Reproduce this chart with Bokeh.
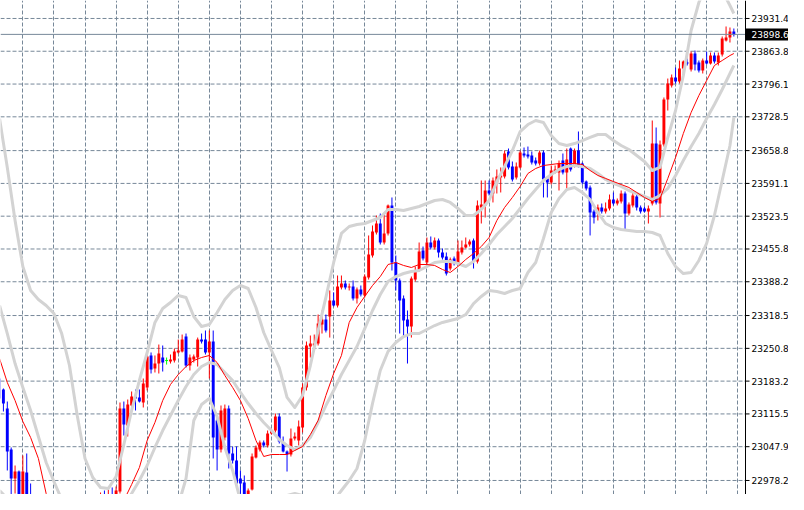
from math import nan
import numpy as np
from bokeh.plotting import figure
from bokeh.models import FixedTicker, Range1d, ColumnDataSource
from bokeh.core.properties import value
from bokeh.embed import file_html
from bokeh.resources import INLINE

# ---- candle data (bar index, prices) ----
bar = list(range(-1, 189))
N8 = [nan] * 17  # bars 8..24 lie below the visible window

opens = [23188.6, 23165.9, 23126.7, 23042.1, 22982.3, 22996.7, 22906.0, 22994.7, 22938.9] + N8 + [
    22906.0, 22941.0, 22936.9, 22949.2, 22912.2, 22955.4, 23126.7, 23091.7, 23132.9, 23151.5,
    23149.5, 23139.1, 23170.1, 23236.1, 23209.2, 23219.5, 23231.9, 23225.7, 23223.6, 23225.7,
    23242.3, 23244.3, 23275.2, 23215.4, 23227.8, 23231.9, 23269.0, 23269.0, 23242.3, 23264.9,
    23102.0, 23042.1, 23066.9, 23126.7, 23033.9, 23019.4, 22982.3, 22974.1, 22941.0, 22959.6,
    23025.6, 23042.1, 23056.6, 23050.4, 23075.1, 23081.3, 23110.2, 23056.6, 23038.0, 23031.8,
    23064.8, 23060.7, 23087.5, 23170.1, 23254.6, 23256.7, 23260.8, 23300.0, 23310.3, 23316.5,
    23349.5, 23339.2, 23376.4, 23384.6, 23376.4, 23378.4, 23353.7, 23372.3, 23359.9, 23397.0,
    23442.4, 23489.9, 23508.4, 23469.2, 23487.8, 23545.6, 23428.0, 23390.8, 23353.7, 23310.3,
    23295.9, 23392.8, 23413.5, 23452.7, 23428.0, 23469.2, 23458.9, 23473.3, 23448.6, 23440.3,
    23415.5, 23436.2, 23425.9, 23448.6, 23458.9, 23465.0, 23473.3, 23430.0, 23541.5, 23545.6,
    23576.5, 23570.3, 23593.0, 23603.3, 23605.4, 23656.9, 23626.0, 23603.3, 23624.0, 23652.8,
    23650.7, 23648.7, 23638.4, 23632.2, 23654.9, 23601.3, 23593.0, 23613.7, 23613.7, 23638.4,
    23613.7, 23663.1, 23628.1, 23659.0, 23632.2, 23595.0, 23582.7, 23533.1, 23529.0, 23541.5,
    23533.1, 23539.4, 23557.9, 23549.7, 23553.8, 23570.3, 23529.0, 23545.6, 23564.1, 23541.5,
    23539.4, 23533.1, 23549.7, 23673.4, 23549.7, 23671.4, 23764.2, 23793.1, 23809.6, 23801.3,
    23828.2, 23840.6, 23826.2, 23859.1, 23840.6, 23824.1, 23844.7, 23838.5, 23855.0, 23840.6,
    23857.0, 23886.0, 23892.1, 23904.5]

highs = [23192.7, 23168.0, 23141.1, 23046.3, 23009.1, 22998.8, 23029.8, 23033.9, 22972.0] + N8 + [
    22953.4, 22957.5, 22959.6, 22963.8, 22965.8, 23139.1, 23141.1, 23145.3, 23161.8, 23165.9,
    23165.9, 23188.6, 23240.2, 23242.3, 23236.1, 23258.7, 23256.7, 23231.9, 23238.1, 23250.5,
    23269.0, 23279.3, 23281.4, 23238.1, 23238.1, 23273.1, 23281.4, 23287.6, 23287.6, 23287.6,
    23106.1, 23132.9, 23134.9, 23132.9, 23048.3, 23048.3, 22998.8, 22988.5, 22961.7, 23033.9,
    23050.4, 23060.7, 23060.7, 23081.3, 23085.4, 23116.4, 23116.4, 23068.9, 23040.1, 23085.4,
    23077.2, 23102.0, 23178.3, 23264.9, 23277.3, 23279.3, 23320.6, 23328.9, 23320.6, 23370.2,
    23366.1, 23401.1, 23401.1, 23390.8, 23384.6, 23390.8, 23376.4, 23380.5, 23403.2, 23483.7,
    23504.3, 23524.9, 23529.0, 23529.0, 23547.6, 23562.1, 23442.4, 23394.9, 23359.9, 23328.9,
    23399.0, 23419.7, 23469.2, 23460.9, 23479.5, 23481.6, 23479.5, 23477.4, 23456.8, 23448.6,
    23438.2, 23440.3, 23473.3, 23473.3, 23479.5, 23475.4, 23477.4, 23555.9, 23597.1, 23597.1,
    23597.1, 23603.3, 23619.9, 23624.0, 23659.0, 23663.1, 23636.3, 23634.3, 23659.0, 23665.2,
    23667.2, 23656.9, 23644.6, 23659.0, 23659.0, 23605.4, 23628.1, 23628.1, 23638.4, 23652.8,
    23663.1, 23665.2, 23663.1, 23698.2, 23634.3, 23597.1, 23586.8, 23537.3, 23547.6, 23549.7,
    23551.8, 23568.2, 23572.4, 23560.0, 23576.5, 23574.4, 23551.8, 23574.4, 23568.2, 23545.6,
    23543.5, 23545.6, 23720.9, 23706.5, 23679.6, 23768.4, 23807.5, 23815.8, 23830.3, 23844.7,
    23844.7, 23848.8, 23863.2, 23865.3, 23844.7, 23848.8, 23863.2, 23861.2, 23861.2, 23861.2,
    23894.2, 23914.9, 23912.8, 23910.7]

lows = [23141.1, 23120.5, 22998.8, 22936.9, 22951.3, 22895.6, 22899.8, 22926.6, 22895.6] + N8 + [
    22899.8, 22926.6, 22932.8, 22916.3, 22906.0, 22951.3, 23071.0, 23068.9, 23126.7, 23122.6,
    23139.1, 23128.8, 23163.9, 23198.9, 23201.0, 23198.9, 23203.0, 23217.4, 23219.5, 23221.6,
    23240.2, 23242.3, 23211.3, 23205.1, 23221.6, 23213.3, 23260.8, 23238.1, 23188.6, 23023.6,
    22998.8, 23036.0, 23060.7, 23002.9, 23013.2, 22967.9, 22936.9, 22936.9, 22936.9, 22957.5,
    23023.6, 23038.0, 23046.3, 23046.3, 23073.0, 23077.2, 23054.5, 23036.0, 22996.7, 23027.7,
    23060.7, 23050.4, 23077.2, 23163.9, 23231.9, 23252.6, 23256.7, 23281.4, 23283.5, 23273.1,
    23337.1, 23335.1, 23372.3, 23372.3, 23370.2, 23349.5, 23343.3, 23357.9, 23355.8, 23392.8,
    23438.2, 23485.7, 23465.1, 23465.1, 23483.7, 23411.4, 23370.2, 23281.4, 23273.1, 23219.5,
    23273.1, 23388.7, 23409.3, 23432.1, 23423.8, 23454.8, 23454.8, 23438.2, 23434.1, 23401.1,
    23411.4, 23421.8, 23423.8, 23444.4, 23456.8, 23460.9, 23415.5, 23425.9, 23508.4, 23520.8,
    23566.2, 23551.8, 23570.3, 23572.4, 23601.3, 23619.9, 23595.0, 23599.2, 23621.9, 23644.6,
    23642.5, 23630.1, 23628.1, 23628.1, 23562.1, 23562.1, 23588.9, 23611.6, 23576.5, 23609.6,
    23576.5, 23615.7, 23624.0, 23624.0, 23588.9, 23576.5, 23483.7, 23508.4, 23514.6, 23529.0,
    23529.0, 23535.2, 23545.6, 23545.6, 23549.7, 23496.1, 23524.9, 23541.5, 23535.2, 23529.0,
    23531.1, 23508.4, 23545.6, 23547.6, 23520.8, 23667.2, 23741.5, 23789.0, 23797.2, 23797.2,
    23817.9, 23834.4, 23822.0, 23824.1, 23820.0, 23817.9, 23836.4, 23836.4, 23838.5, 23834.4,
    23852.9, 23883.9, 23881.8, 23894.2]

closes = [23147.4, 23137.0, 23038.0, 22982.3, 22996.7, 22912.2, 22996.7, 22936.9, 22906.0] + N8 + [
    22943.1, 22932.8, 22947.2, 22922.5, 22957.5, 23126.7, 23093.7, 23134.9, 23151.5, 23147.4,
    23141.1, 23178.3, 23234.0, 23207.1, 23219.5, 23240.2, 23221.6, 23225.7, 23227.8, 23244.3,
    23246.4, 23269.0, 23215.4, 23231.9, 23234.0, 23269.0, 23264.9, 23242.3, 23264.9, 23066.9,
    23042.1, 23122.6, 23126.7, 23033.9, 23019.4, 22972.0, 22972.0, 22941.0, 22957.5, 23027.7,
    23046.3, 23056.6, 23050.4, 23075.1, 23081.3, 23110.2, 23058.6, 23038.0, 23031.8, 23064.8,
    23068.9, 23089.6, 23170.1, 23256.7, 23260.8, 23260.8, 23302.1, 23310.3, 23287.6, 23349.5,
    23339.2, 23378.4, 23384.6, 23376.4, 23378.4, 23353.7, 23372.3, 23362.0, 23399.0, 23444.4,
    23491.9, 23508.4, 23469.2, 23487.8, 23545.6, 23428.0, 23390.8, 23349.5, 23308.3, 23295.9,
    23394.9, 23411.4, 23450.6, 23436.2, 23469.2, 23458.9, 23473.3, 23448.6, 23438.2, 23405.2,
    23434.1, 23425.9, 23450.6, 23458.9, 23465.0, 23471.2, 23430.0, 23545.6, 23547.6, 23576.5,
    23570.3, 23597.1, 23605.4, 23607.5, 23652.8, 23624.0, 23599.2, 23626.0, 23654.9, 23648.7,
    23646.6, 23634.3, 23632.2, 23654.9, 23599.2, 23593.0, 23617.8, 23619.9, 23632.2, 23613.7,
    23640.4, 23619.9, 23659.0, 23628.1, 23593.0, 23580.6, 23531.1, 23520.8, 23541.5, 23533.1,
    23539.4, 23557.9, 23549.7, 23555.9, 23570.3, 23529.0, 23547.6, 23566.2, 23541.5, 23533.1,
    23533.1, 23539.4, 23673.4, 23551.8, 23671.4, 23764.2, 23797.2, 23809.6, 23801.3, 23828.2,
    23842.6, 23838.5, 23859.1, 23836.4, 23824.1, 23844.7, 23838.5, 23855.0, 23842.6, 23855.0,
    23890.1, 23892.1, 23904.5, 23898.6]

# ---- indicator lines (read every 2 bars) ----
band_bar = list(range(-1, 188, 2)) + [188]
bb_upper = [
    23725.0, 23624.0, 23514.6, 23419.7, 23370.2, 23351.6, 23339.2, 23322.7, 23281.4, 23215.4,
    23112.3, 23023.6, 22984.4, 22963.8, 22961.7, 22986.4, 23052.4, 23122.6, 23184.5, 23242.3,
    23304.2, 23333.0, 23345.4, 23359.9, 23355.8, 23316.5, 23295.9, 23300.0, 23324.8, 23351.6,
    23370.2, 23380.5, 23374.3, 23335.1, 23283.5, 23246.4, 23211.3, 23149.5, 23128.8, 23153.6,
    23215.4, 23287.6, 23355.8, 23428.0, 23487.8, 23502.2, 23506.3, 23508.4, 23514.6, 23520.8,
    23537.3, 23537.3, 23535.2, 23539.4, 23543.5, 23549.7, 23555.9, 23557.9, 23551.8, 23539.4,
    23524.9, 23524.9, 23537.3, 23555.9, 23595.0, 23626.0, 23659.0, 23698.2, 23712.6, 23720.9,
    23716.8, 23689.9, 23673.4, 23669.3, 23673.4, 23679.6, 23685.9, 23692.0, 23692.0, 23679.6,
    23669.3, 23661.1, 23648.7, 23636.3, 23617.8, 23624.0, 23685.9, 23741.5, 23813.8, 23906.6,
    23964.4, 23999.4, 24013.9, 23989.1, 23958.2, 23941.7]
bb_middle = [
    23339.2, 23281.4, 23219.5, 23170.1, 23122.6, 23068.9, 23015.3, 22976.1, 22938.9, 22906.0,
    22885.3, 22864.7, 22854.4, 22854.4, 22864.7, 22891.5, 22926.6, 22951.3, 22978.2, 23009.1,
    23046.3, 23081.3, 23112.3, 23143.2, 23172.1, 23196.8, 23213.3, 23221.6, 23217.4, 23201.0,
    23184.5, 23159.8, 23137.0, 23116.4, 23097.9, 23081.3, 23062.7, 23050.4, 23042.1, 23050.4,
    23066.9, 23097.9, 23132.9, 23163.9, 23196.8, 23225.7, 23254.6, 23291.7, 23328.9, 23361.9,
    23388.7, 23399.0, 23405.2, 23409.3, 23411.4, 23419.7, 23428.0, 23430.0, 23430.0, 23425.9,
    23419.7, 23430.0, 23446.5, 23465.1, 23485.7, 23502.2, 23518.7, 23539.4, 23560.0, 23578.6,
    23597.1, 23609.6, 23619.9, 23626.0, 23628.1, 23626.0, 23621.9, 23611.6, 23599.2, 23591.0,
    23584.8, 23576.5, 23570.3, 23564.1, 23557.9, 23566.2, 23580.6, 23607.5, 23638.4, 23667.2,
    23694.1, 23725.0, 23753.9, 23784.9, 23817.9, 23834.4]
bb_lower = [
    22957.5, 22941.0, 22924.5, 22899.8, 22875.0, 22792.5, 22691.4, 22627.4, 22592.4, 22606.8,
    22654.3, 22693.4, 22726.5, 22751.2, 22767.7, 22782.2, 22792.5, 22776.0, 22751.2, 22761.5,
    22780.1, 22823.4, 22885.3, 22926.6, 22982.3, 23102.0, 23134.9, 23147.4, 23110.2, 23046.3,
    22998.8, 22936.9, 22899.8, 22895.6, 22912.2, 22926.6, 22936.9, 22947.2, 22951.3, 22947.2,
    22930.7, 22920.4, 22922.5, 22936.9, 22957.5, 22978.2, 23002.9, 23060.7, 23137.0, 23205.1,
    23244.3, 23262.9, 23275.2, 23281.4, 23281.4, 23289.7, 23297.9, 23304.2, 23308.3, 23312.4,
    23320.6, 23343.3, 23357.9, 23370.2, 23368.1, 23364.0, 23370.2, 23374.3, 23407.3, 23428.0,
    23477.4, 23531.1, 23560.0, 23578.6, 23582.7, 23572.4, 23557.9, 23531.1, 23508.4, 23500.2,
    23496.1, 23494.0, 23491.9, 23491.9, 23489.8, 23483.7, 23446.5, 23419.7, 23405.2, 23407.3,
    23432.1, 23467.2, 23524.9, 23597.1, 23669.3, 23727.1]
ma_red = [
    23229.9, 23180.4, 23143.2, 23099.9, 23066.9, 23023.6, 22951.3, 22906.0, 22885.3, 22870.9,
    22864.7, 22868.8, 22875.0, 22885.3, 22899.8, 22916.3, 22936.9, 22969.9, 23005.0, 23060.7,
    23097.9, 23143.2, 23176.2, 23196.8, 23213.3, 23225.7, 23231.9, 23236.1, 23221.6, 23194.8,
    23170.1, 23143.2, 23106.1, 23060.7, 23027.7, 23031.8, 23031.8, 23031.8, 23040.1, 23048.3,
    23073.0, 23102.0, 23153.6, 23198.9, 23236.1, 23304.2, 23335.1, 23357.9, 23380.5, 23399.0,
    23423.8, 23428.0, 23421.8, 23417.6, 23423.8, 23423.8, 23421.8, 23413.5, 23407.3, 23419.7,
    23434.1, 23446.5, 23461.0, 23479.5, 23514.6, 23541.5, 23562.1, 23584.8, 23611.6, 23621.9,
    23628.1, 23630.1, 23632.2, 23632.2, 23632.2, 23630.1, 23617.8, 23607.5, 23601.3, 23595.0,
    23588.9, 23582.7, 23572.4, 23562.1, 23553.8, 23560.0, 23601.3, 23644.6, 23694.1, 23737.4,
    23772.5, 23803.4, 23834.4, 23844.7, 23855.0, 23859.1]

price_ticks = [23931.4, 23863.8, 23796.1, 23728.5, 23658.8, 23591.1, 23523.5, 23455.8,
               23388.2, 23318.5, 23250.8, 23183.2, 23115.5, 23047.9, 22978.2]
price_labels = [f"{t:.1f}" for t in price_ticks]
last_price = 23898.6

# ---- layout / style constants ----
W, H = 788, 494
AXIS_PX = 745                     # pixel column of the price-scale line
X0, AXIS_X = -0.75, 191.0         # bar coordinate at the left edge and at the price scale
PXU = AXIS_PX / (AXIS_X - X0)     # pixels per bar unit
X_END = X0 + W / PXU
Y_TOP = 23968.5
Y_PER_PX = 2.0632
Y_BOT = Y_TOP - H * Y_PER_PX

UP, DOWN, DOJI = "#FF0000", "#0000FF", "#00FF00"
GRID = "#778899"
BAND = "#D3D3D3"
FONT = "DejaVu Sans"

o = np.array(opens, dtype=float)
c = np.array(closes, dtype=float)
x = np.array(bar, dtype=float)
colors = np.where(c > o, UP, np.where(c < o, DOWN, DOJI))
src = ColumnDataSource(dict(x=x, top=np.maximum(o, c), bottom=np.minimum(o, c),
                            high=np.array(highs), low=np.array(lows), color=colors))
doji = (o == c)
doji_src = ColumnDataSource(dict(x0=x[doji] - 0.375, x1=x[doji] + 0.375, y=o[doji]))

p = figure(width=W, height=H,
           x_range=Range1d(X0, X_END), y_range=Range1d(Y_BOT, Y_TOP),
           output_backend="svg", toolbar_location=None,
           x_axis_location=None, y_axis_location=None,
           min_border=0, outline_line_color=None,
           background_fill_color="white", border_fill_color="white")

# vertical grid
p.xgrid.ticker = FixedTicker(ticks=list(range(5, 190, 8)))
p.xgrid.grid_line_color = GRID
p.xgrid.grid_line_dash = "4 2"
p.xgrid.grid_line_width = 1
p.ygrid.visible = False

# horizontal grid (stops at the price scale)
n = len(price_ticks)
p.segment(x0=[X0] * n, x1=[AXIS_X] * n, y0=price_ticks, y1=price_ticks,
          line_color=GRID, line_dash="4 2", line_width=1)

# candles
p.segment(x0="x", y0="high", x1="x", y1="low", line_color="color", line_width=1, source=src)
p.vbar(x="x", width=0.75, top="top", bottom="bottom", fill_color="color", line_color=None, source=src)
p.segment(x0="x0", y0="y", x1="x1", y1="y", line_color=DOJI, line_width=1, source=doji_src)

# Bollinger bands and moving average
for series in (bb_upper, bb_middle, bb_lower):
    p.line(band_bar, series, line_color=BAND, line_width=3, line_join="round")
p.line(band_bar, ma_red, line_color="#FF0000", line_width=1)

# current price line
p.segment(x0=[X0], x1=[AXIS_X], y0=[last_price], y1=[last_price], line_color=GRID, line_width=1)

# price scale: line, ticks, labels
p.segment(x0=[AXIS_X], x1=[AXIS_X], y0=[Y_BOT], y1=[Y_TOP], line_color="black", line_width=1)
p.segment(x0=[AXIS_X] * n, x1=[AXIS_X + 4 / PXU] * n, y0=price_ticks, y1=price_ticks,
          line_color="black", line_width=1)
p.text(x=[AXIS_X + 6 / PXU] * n, y=price_ticks, text=price_labels,
       text_font=value(FONT), text_font_size="9px", text_color="black",
       text_align="left", text_baseline="middle")

# current price tag
p.quad(left=[AXIS_X + 0.5 / PXU], right=[X_END], top=[last_price + 6 * Y_PER_PX],
       bottom=[last_price - 6 * Y_PER_PX], fill_color="black", line_color=None)
p.text(x=[AXIS_X + 6 / PXU], y=[last_price], text=[f"{last_price:.1f}"],
       text_font=value(FONT), text_font_size="9px", text_color="white",
       text_align="left", text_baseline="middle")

open("out.html", "w").write(file_html(p, INLINE))
